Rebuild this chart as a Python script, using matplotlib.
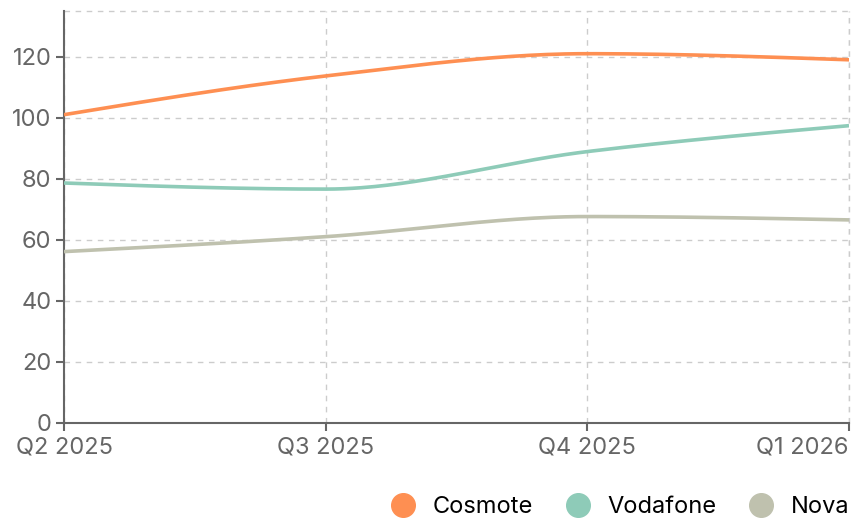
import numpy as np
import matplotlib
matplotlib.use("Agg")
import matplotlib.pyplot as plt
from matplotlib.lines import Line2D

plt.rcParams['font.family'] = ['Inter', 'DejaVu Sans']

# data
quarters = ["Q2 2025", "Q3 2025", "Q4 2025", "Q1 2026"]
cosmote = [101, 113.7, 121, 119]
vodafone = [78.6, 76.6, 88.9, 97.4]
nova = [56.1, 61, 67.6, 66.5]

series = [("Cosmote", cosmote, "#fe8f52"),
          ("Vodafone", vodafone, "#8ecbb8"),
          ("Nova", nova, "#bfc1ae")]


def monotone(x, y, n=60):
    # monotone cubic (like d3 curveMonotoneX), only for drawing the curve
    x = np.asarray(x, float); y = np.asarray(y, float)
    h = np.diff(x); d = np.diff(y) / h
    m = np.zeros(len(x))
    for i in range(1, len(x) - 1):
        p = (d[i-1] * h[i] + d[i] * h[i-1]) / (h[i-1] + h[i])
        m[i] = (np.sign(d[i-1]) + np.sign(d[i])) * min(abs(d[i-1]), abs(d[i]), 0.5 * abs(p))
    m[0] = (3 * d[0] - m[1]) / 2
    m[-1] = (3 * d[-1] - m[-2]) / 2
    xs, ys = [], []
    for i in range(len(x) - 1):
        t = np.linspace(0, 1, n)
        h00 = 2*t**3 - 3*t**2 + 1; h10 = t**3 - 2*t**2 + t
        h01 = -2*t**3 + 3*t**2; h11 = t**3 - t**2
        xs.append(x[i] + t * h[i])
        ys.append(h00*y[i] + h10*h[i]*m[i] + h01*y[i+1] + h11*h[i]*m[i+1])
    return np.concatenate(xs), np.concatenate(ys)


fig = plt.figure(figsize=(8.68, 5.2), dpi=100)
ax = fig.add_axes([64/868, 1 - 422.7/520, (849-64)/868, (422.7-11)/520])

xpos = np.arange(len(quarters))
for name, vals, col in series:
    sx, sy = monotone(xpos, vals)
    ax.plot(sx, sy, color=col, lw=2.6, solid_capstyle='butt', zorder=3)

ax.set_xlim(0, 3)
ax.set_ylim(0, 135)
ax.set_yticks(np.arange(0, 121, 20))
ax.set_xticks(xpos)
ax.set_xticklabels(quarters)
ax.get_xticklabels()[-1].set_horizontalalignment('right')

grid_kw = dict(color='#cccccc', lw=1, dashes=(4, 4))
ax.grid(True, **grid_kw)
ax.axhline(135, **grid_kw, clip_on=False)
ax.axvline(3, **grid_kw, clip_on=False)

for s in ['top', 'right']:
    ax.spines[s].set_visible(False)
for s in ['left', 'bottom']:
    ax.spines[s].set_color('#666666')
    ax.spines[s].set_linewidth(1.5)
ax.tick_params(colors='#666666', labelcolor='#666666', length=6, width=1.5,
               labelsize=17)
ax.tick_params(axis='y', pad=3)
ax.tick_params(axis='x', pad=4)

handles = [Line2D([], [], ls='none', marker='o', ms=17, color=c, mec=c)
           for _, _, c in series]
fig.legend(handles, [s[0] for s in series], loc='center right',
           bbox_to_anchor=(0.992, 1 - 507/520), ncol=3, frameon=False,
           fontsize=17, handletextpad=0.75, columnspacing=1.4,
           handlelength=1.0, borderpad=0)

fig.savefig("out.png", dpi=100)
